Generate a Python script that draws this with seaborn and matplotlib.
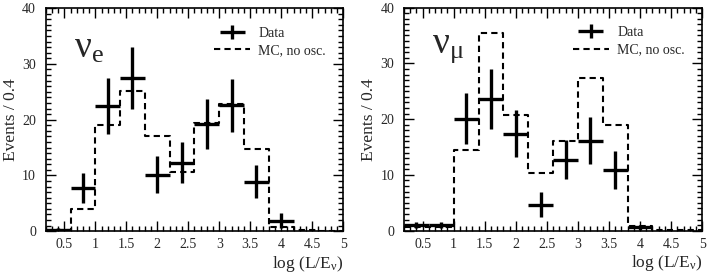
import numpy as np
import pandas as pd
import seaborn as sns
import matplotlib.pyplot as plt
from matplotlib.ticker import MultipleLocator
from matplotlib.container import ErrorbarContainer
from matplotlib.legend_handler import HandlerErrorbar

sns.set_theme(style="ticks")
plt.rcParams["font.family"] = ["Liberation Serif", "DejaVu Serif"]
plt.rcParams["mathtext.fontset"] = "custom"
plt.rcParams["mathtext.rm"] = "Liberation Serif"
plt.rcParams["mathtext.it"] = "Liberation Serif:italic"

# bins in log(L/E), width 0.4
bin_edges = [0.2, 0.6, 1.0, 1.4, 1.8, 2.2, 2.6, 3.0, 3.4, 3.8, 4.2, 4.6, 5.0]
bin_centers = [0.4, 0.8, 1.2, 1.6, 2.0, 2.4, 2.8, 3.2, 3.6, 4.0, 4.4, 4.8]

# nu_e
mc_e = [0.3, 3.9, 19.0, 25.2, 17.0, 10.6, 19.4, 22.8, 14.7, 0.7, 0.2, 0.1]
data_x_e = [0.4, 0.8, 1.2, 1.6, 2.0, 2.4, 2.8, 3.2, 3.6, 4.0]
data_e = [0.2, 7.7, 22.5, 27.4, 10.0, 12.2, 19.2, 22.6, 8.9, 1.9]
err_lo_e = [0.2, 2.7, 5.0, 5.5, 3.2, 3.5, 4.5, 4.8, 2.9, 1.4]
err_hi_e = [0.3, 2.8, 5.0, 5.6, 3.4, 3.8, 4.5, 4.7, 2.9, 1.4]

# nu_mu
mc_mu = [0.6, 0.6, 14.4, 35.4, 20.7, 10.3, 16.0, 27.4, 19.0, 0.8, 0.1, 0.1]
data_x_mu = [0.4, 0.8, 1.2, 1.6, 2.0, 2.4, 2.8, 3.2, 3.6, 4.0]
data_mu = [1.0, 1.0, 20.1, 23.6, 17.3, 4.6, 12.6, 16.1, 10.8, 0.6]
err_lo_mu = [0.6, 0.6, 4.5, 5.4, 4.1, 2.2, 3.4, 4.1, 3.3, 0.4]
err_hi_mu = [0.6, 0.6, 4.6, 5.4, 4.3, 2.4, 3.6, 4.2, 3.5, 0.4]

panels = [
    (r"$\mathrm{\nu_e}$", mc_e, data_x_e, data_e, err_lo_e, err_hi_e),
    (r"$\mathrm{\nu_{\mu}}$", mc_mu, data_x_mu, data_mu, err_lo_mu, err_hi_mu),
]

fig = plt.figure(figsize=(7.1, 2.72), dpi=100)
axes = [fig.add_axes([0.0644, 0.15, 0.419, 0.82]),
        fig.add_axes([0.569, 0.152, 0.42, 0.82])]

for ax, (lab, mc, dx, dy, elo, ehi) in zip(axes, panels):
    df_mc = pd.DataFrame({"x": bin_centers, "w": mc})
    sns.histplot(data=df_mc, x="x", weights="w", bins=bin_edges, element="step",
                 fill=False, color="black", linestyle=(0, (3, 2)), linewidth=1.5,
                 ax=ax, label="MC, no osc.")
    ax.errorbar(dx, dy, xerr=0.2, yerr=[elo, ehi], fmt="none", ecolor="black",
                elinewidth=2.4, capsize=0, label="Data")
    ax.set_xlim(0.2, 5.0)
    ax.set_ylim(0, 40)
    ax.xaxis.set_minor_locator(MultipleLocator(0.1))
    ax.yaxis.set_major_locator(MultipleLocator(10))
    ax.yaxis.set_minor_locator(MultipleLocator(1))
    ax.set_xticks([0.5, 1, 1.5, 2, 2.5, 3, 3.5, 4, 4.5, 5])
    ax.set_xticklabels(["0.5", "1", "1.5", "2", "2.5", "3", "3.5", "4", "4.5", "5"])
    ax.tick_params(which="both", direction="in", top=True, right=True,
                   labelsize=10, color="black", width=1)
    ax.tick_params(axis="x", pad=5)
    ax.tick_params(axis="y", pad=7)
    ax.tick_params(which="major", length=7)
    ax.tick_params(which="minor", length=3.5)
    for s in ax.spines.values():
        s.set_linewidth(1.2)
        s.set_color("black")
    ax.set_ylabel("Events / 0.4", fontsize=12.5)
    ax.yaxis.set_label_coords(-0.09, 0.5)
    ax.set_xlabel(r"log (L/E$_{\mathrm{\nu}}$)", fontsize=12.5, ha="right")
    ax.xaxis.set_label_coords(1.0, -0.1)
    ax.text(0.095, 0.82, lab, transform=ax.transAxes, fontsize=27, va="center", ha="left")
    handles, labels = ax.get_legend_handles_labels()
    order = [labels.index("Data"), labels.index("MC, no osc.")]
    ax.legend([handles[i] for i in order], [labels[i] for i in order],
              loc="upper right", bbox_to_anchor=(0.975, 0.96), frameon=False,
              fontsize=10, handlelength=2.6, handletextpad=0.6,
              labelspacing=0.3, borderaxespad=0.3,
              handler_map={ErrorbarContainer: HandlerErrorbar(xerr_size=0.9, yerr_size=0.5)})

fig.savefig("out.png", dpi=100)
